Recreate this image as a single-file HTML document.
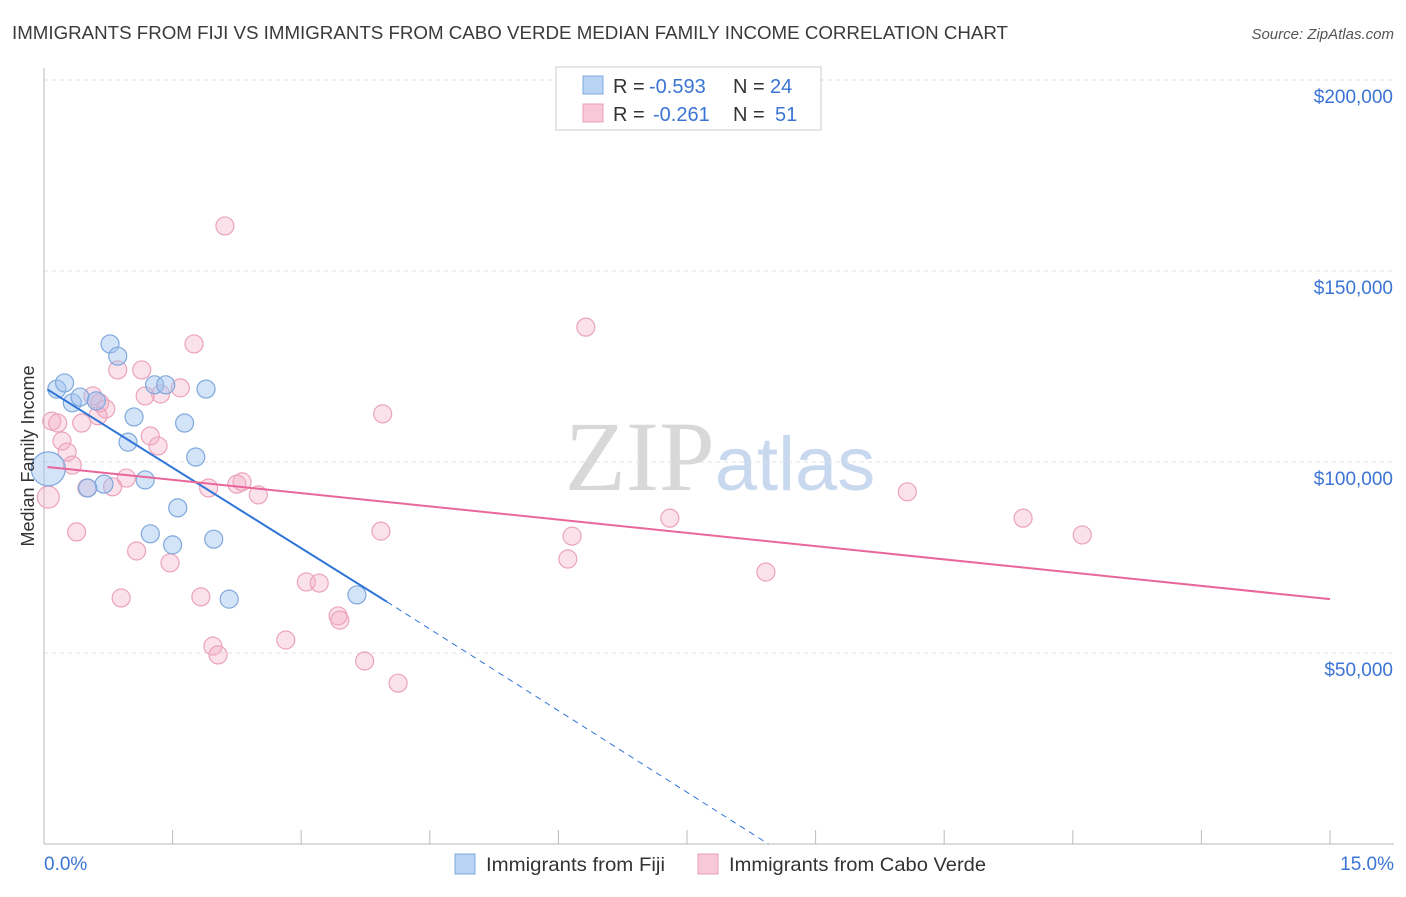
<!DOCTYPE html>
<html><head><meta charset="utf-8"><style>
body{margin:0;background:#fff;font-family:"Liberation Sans",sans-serif}
svg text{font-family:"Liberation Sans",sans-serif}
</style></head><body>
<svg id="chart" width="1406" height="892" viewBox="0 0 1406 892">
<text x="12" y="39" font-size="18" fill="#3a3a3a" textLength="996" lengthAdjust="spacingAndGlyphs">IMMIGRANTS FROM FIJI VS IMMIGRANTS FROM CABO VERDE MEDIAN FAMILY INCOME CORRELATION CHART</text>
<text x="1394" y="39" font-size="15" fill="#555" font-style="italic" text-anchor="end">Source: ZipAtlas.com</text>
<text x="720" y="490" font-size="100" text-anchor="middle"><tspan fill="#d8d8d8" font-family="Liberation Serif">ZIP</tspan><tspan fill="#c8d8ee" font-size="76">atlas</tspan></text>
<g id="grid"></g><g id="axes"></g><g id="marks"></g>
<text transform="translate(34,456) rotate(-90)" font-size="18" fill="#333" text-anchor="middle">Median Family Income</text>
<g>
<rect x="556" y="67" width="265" height="63" fill="#fff" stroke="#ccc"/>
<rect x="583" y="76" width="20" height="18" fill="#b9d3f5" stroke="#7fa8dd"/>
<rect x="583" y="104" width="20" height="18" fill="#f9c8d8" stroke="#eaa0b8"/>
<text x="613" y="93" font-size="20" fill="#333">R =</text>
<text x="649" y="93" font-size="20" fill="#3b74d4">-0.593</text>
<text x="733" y="93" font-size="20" fill="#333">N =</text>
<text x="770" y="93" font-size="20" fill="#3b74d4">24</text>
<text x="613" y="121" font-size="20" fill="#333">R =</text>
<text x="653" y="121" font-size="20" fill="#3b74d4">-0.261</text>
<text x="733" y="121" font-size="20" fill="#333">N =</text>
<text x="775" y="121" font-size="20" fill="#3b74d4">51</text>
</g>
<g>
<rect x="455" y="854" width="20" height="20" fill="#b9d3f5" stroke="#7fa8dd"/>
<text x="486" y="871" font-size="19.5" fill="#333" textLength="179" lengthAdjust="spacingAndGlyphs">Immigrants from Fiji</text>
<rect x="698" y="854" width="20" height="20" fill="#f9c8d8" stroke="#eaa0b8"/>
<text x="729" y="871" font-size="19.5" fill="#333" textLength="257" lengthAdjust="spacingAndGlyphs">Immigrants from Cabo Verde</text>
</g>
</svg>
<script>
const fijiX=[0.15,0.24,0.33,0.42,0.61,0.77,0.86,1.05,0.98,1.29,1.42,1.89,1.64,1.77,1.18,0.70,0.51,1.56,1.24,1.50,1.98,2.16,3.65,0.05];
const fijiY=[119.1,120.7,115.5,117.0,116.0,130.9,127.7,111.8,105.2,120.2,120.2,119.1,110.2,101.3,95.3,94.2,93.2,88.0,81.2,78.3,79.8,64.1,65.2,98.2];
const caboX=[2.11,6.32,1.75,0.86,1.14,1.59,1.36,0.57,1.18,0.65,0.72,3.95,0.63,0.09,0.16,0.44,1.24,0.21,1.33,0.27,0.33,0.96,2.31,2.25,1.92,0.80,0.50,2.50,0.05,10.07,7.30,11.42,12.11,3.93,6.16,0.38,1.08,6.11,1.47,8.42,3.06,3.21,0.90,1.83,3.43,3.45,2.82,1.97,2.03,3.74,4.13];
const caboY=[161.8,135.3,130.9,124.1,124.1,119.4,117.8,117.3,117.3,115.5,113.9,112.6,112.1,110.7,110.2,110.2,106.8,105.5,104.2,102.6,99.2,95.8,94.8,94.2,93.2,93.5,93.2,91.4,90.8,92.2,85.3,85.3,80.9,81.9,80.6,81.7,76.7,74.6,73.6,71.2,68.6,68.3,64.4,64.7,59.7,58.6,53.4,51.8,49.5,47.9,42.1];
const yTicks=[50,100,150,200];
const yTickLabels=["$50,000","$100,000","$150,000","$200,000"];
const xTickLabels=["0.0%","15.0%"];
const fijiTrend=[[0.04,119],[4.0,63.4],[8.45,0]];
const caboTrend=[[0.04,98.7],[15,64.1]];
const NS="http://www.w3.org/2000/svg";
const sx=v=>44+v*(1286/15), sy=v=>844-v*(191/50);
function mk(p,t,a){const e=document.createElementNS(NS,t);for(const k in a)e.setAttribute(k,a[k]);p.appendChild(e);return e;}
const grid=document.getElementById('grid'),axes=document.getElementById('axes'),marks=document.getElementById('marks');
yTicks.forEach((v,i)=>{
 const l=mk(grid,'line',{x1:44,x2:1394,y1:sy(v),y2:sy(v),stroke:'#e2e2e2','stroke-dasharray':'4,4'});
 
 const t=mk(axes,'text',{x:1393,y:sy(v)+23,'font-size':19,fill:'#3b74d4','text-anchor':'end'});t.textContent=yTickLabels[i];
 
});
let ax=mk(axes,'line',{x1:44,x2:1394,y1:844,y2:844,stroke:'#bbb'});

ax=mk(axes,'line',{x1:44,x2:44,y1:68,y2:844,stroke:'#bbb'});

for(let i=0;i<=10;i++){const tk=mk(axes,'line',{x1:sx(i*1.5),x2:sx(i*1.5),y1:830,y2:844,stroke:'#bbb'});
 }
let t=mk(axes,'text',{x:44,y:870,'font-size':19,fill:'#3b74d4'});t.textContent=xTickLabels[0];

t=mk(axes,'text',{x:1394,y:870,'font-size':19,fill:'#3b74d4','text-anchor':'end'});t.textContent=xTickLabels[1];

caboX.forEach((x,i)=>{const c=mk(marks,'circle',{cx:sx(x),cy:sy(caboY[i]),r:i==28?11:9,fill:'rgba(244,170,195,0.35)',stroke:'#eba3bb','stroke-width':1.2});
 });
fijiX.forEach((x,i)=>{const c=mk(marks,'circle',{cx:sx(x),cy:sy(fijiY[i]),r:i==23?17:9,fill:'rgba(160,196,240,0.45)',stroke:'#7fa8dd','stroke-width':1.2});
 });
let l=mk(marks,'line',{x1:sx(fijiTrend[0][0]),y1:sy(fijiTrend[0][1]),x2:sx(fijiTrend[1][0]),y2:sy(fijiTrend[1][1]),stroke:'#2f74d8','stroke-width':2});

l=mk(marks,'line',{x1:sx(fijiTrend[1][0]),y1:sy(fijiTrend[1][1]),x2:sx(fijiTrend[2][0]),y2:sy(fijiTrend[2][1]),stroke:'#2f74d8','stroke-width':1,'stroke-dasharray':'6,5'});

l=mk(marks,'line',{x1:sx(caboTrend[0][0]),y1:sy(caboTrend[0][1]),x2:sx(caboTrend[1][0]),y2:sy(caboTrend[1][1]),stroke:'#e8669a','stroke-width':2});

</script>
</body></html>
